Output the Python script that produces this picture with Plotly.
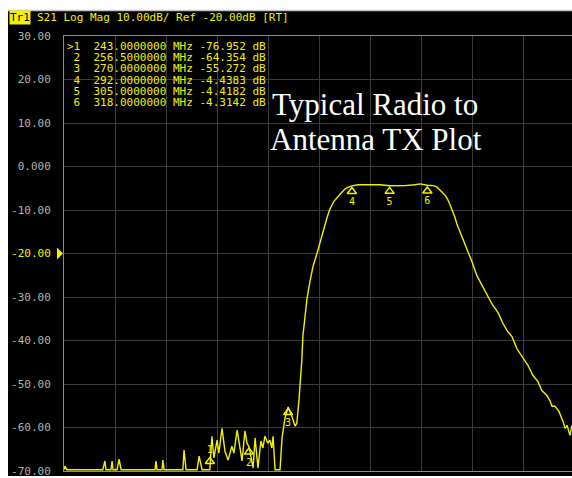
import plotly.graph_objects as go

# ---------------- data ----------------
freq_mhz = [192.7, 193.0, 193.7, 206.1, 206.8, 207.2, 208.9, 209.3, 209.6, 211.0,
            211.7, 212.4, 224.1, 224.4, 224.8, 226.5, 226.8, 227.2, 233.7, 234.1,
            234.8, 238.6, 239.3, 240.3, 241.7, 243.0, 243.7, 244.4, 245.5, 246.1,
            247.2, 248.2, 249.3, 250.6, 251.3, 252.4, 253.4, 254.1, 255.1, 255.8,
            256.5, 257.2, 257.9, 258.6, 259.6, 260.6, 261.3, 262.0, 263.0, 263.7,
            264.4, 264.8, 265.5, 267.2, 267.9, 268.9, 270.0, 270.6, 271.3, 272.4,
            273.0, 273.7, 274.4, 274.7, 275.1, 275.8, 276.5, 277.5, 278.6, 279.9,
            281.0, 282.0, 283.4, 284.4, 285.8, 287.9, 289.6, 290.6, 292.0, 294.1,
            301.7, 305.0, 310.3, 313.7, 315.5, 318.0, 320.0, 321.3, 323.0, 324.4,
            325.5, 326.5, 327.5, 328.2, 329.9, 331.7, 333.4, 335.1, 336.1, 336.8,
            338.6, 340.3, 342.4, 344.1, 345.8, 347.2, 348.9, 350.6, 352.7, 354.4,
            356.1, 357.5, 359.2, 360.3, 361.0, 362.0, 363.4, 364.8, 365.5, 366.2,
            366.5, 367.2, 367.9]
s21_db = [-69.7, -68.9, -69.7, -69.7, -67.7, -69.7, -69.7, -67.7, -69.7, -69.7,
          -67.3, -69.7, -69.7, -67.7, -69.7, -69.7, -67.5, -69.7, -69.7, -65.2,
          -69.7, -69.7, -66.6, -69.7, -69.7, -69.7, -62.0, -67.0, -62.9, -65.9,
          -60.2, -65.4, -67.5, -64.3, -65.9, -60.6, -64.7, -67.7, -60.8, -63.6,
          -64.4, -66.6, -69.3, -62.4, -69.3, -63.1, -64.7, -62.0, -63.6, -62.9,
          -64.7, -62.0, -69.7, -69.7, -62.4, -57.9, -55.3, -56.3, -57.4, -59.7,
          -59.0, -54.0, -48.0, -44.8, -38.9, -34.3, -30.4, -26.5, -22.9, -20.1,
          -17.4, -14.6, -11.8, -9.8, -8.0, -6.4, -5.2, -4.8, -4.44, -4.2,
          -4.2, -4.42, -4.4, -4.2, -4.0, -4.31, -4.4, -4.7, -5.9, -6.8,
          -8.2, -9.8, -11.6, -13.2, -16.0, -19.0, -21.9, -25.1, -26.3, -27.4,
          -29.5, -31.6, -33.6, -36.1, -38.0, -39.1, -41.9, -43.7, -45.7, -48.0,
          -49.4, -51.5, -52.6, -53.8, -55.1, -55.1, -56.3, -58.6, -60.2, -59.5,
          -60.2, -61.8, -59.5]

marker_ids = ["1", "2", "3", "4", "5", "6"]
marker_freq = [243.0, 256.5, 270.0, 292.0, 305.0, 318.0]
marker_db = [-76.952, -64.354, -55.272, -4.4383, -4.4182, -4.3142]

y_ticks = [30, 20, 10, 0, -10, -20, -30, -40, -50, -60, -70]
y_ticktext = ["30.00", "20.00", "10.00", "0.000", "-10.00", "-20.00",
              "-30.00", "-40.00", "-50.00", "-60.00", "-70.00"]
ref_level = -20

header_text = "S21 Log Mag 10.00dB/ Ref -20.00dB [RT]"
title_lines = ["Typical Radio to", "Antenna TX Plot"]

# ---------------- layout geometry ----------------
W, H = 572, 478
L, R, T, B = 64, 0, 36, 5
PW, PH = W - L - R, H - T - B
X_RANGE = [192.7, 367.9]
Y_RANGE = [-70, 30]

def pxx(px):
    return (px - L) / PW

def pxy(py):
    return (H - B - py) / PH

YEL = "#f2f200"
MONO = "DejaVu Sans Mono"

fig = go.Figure()

fig.add_trace(go.Scatter(x=freq_mhz, y=s21_db, mode="lines",
                         line=dict(color=YEL, width=1.4), hoverinfo="skip",
                         showlegend=False))

# marker symbols on the trace (off-screen markers are pinned near the bottom)
floor_pin = -66.5
disp_db = [max(v, floor_pin) for v in marker_db]
text_pos = ["top center" if v < floor_pin else "bottom center" for v in marker_db]
fig.add_trace(go.Scatter(
    x=marker_freq, y=[v - 1.3 for v in disp_db], mode="markers+text",
    marker=dict(symbol="triangle-up-open", size=8, color=YEL,
                line=dict(color=YEL, width=1.5)),
    text=marker_ids, textposition=text_pos,
    textfont=dict(family=MONO, size=10, color=YEL),
    showlegend=False, hoverinfo="skip", cliponaxis=False))

# marker position indicators along the bottom edge
fig.add_trace(go.Scatter(
    x=marker_freq, y=[Y_RANGE[0] - 0.9] * len(marker_freq), mode="markers",
    marker=dict(symbol="triangle-up-open", size=6, color=YEL,
                line=dict(color=YEL, width=1.2)),
    showlegend=False, hoverinfo="skip", cliponaxis=False))

ticktext = [f'<span style="color:{YEL}">{t}</span>' if v == ref_level else t
            for v, t in zip(y_ticks, y_ticktext)]

annotations = []
annotations.append(dict(xref="paper", yref="paper", x=pxx(9), y=pxy(17.5),
                        xanchor="left", yanchor="middle", text="Tr1",
                        showarrow=False, bgcolor=YEL, borderpad=0,
                        font=dict(family=MONO, size=11, color="black")))
annotations.append(dict(xref="paper", yref="paper", x=pxx(35), y=pxy(17.5),
                        xanchor="left", yanchor="middle", text=header_text,
                        showarrow=False,
                        font=dict(family=MONO, size=11, color=YEL)))

for i, (mid, f, v) in enumerate(zip(marker_ids, marker_freq, marker_db)):
    lead = ">" if i == 0 else " "
    row = f"{lead}{mid}  {f:.7f} MHz {v:.5g} dB".replace(" ", "\u00a0")
    annotations.append(dict(xref="paper", yref="paper", x=pxx(66),
                            y=pxy(46.5 + i * 11.3), xanchor="left",
                            yanchor="middle", text=row, showarrow=False,
                            height=11, borderpad=0,
                            font=dict(family=MONO, size=11, color=YEL)))

for j, line in enumerate(title_lines):
    annotations.append(dict(xref="paper", yref="paper", x=pxx(270 - j * 2),
                            y=pxy(105 + j * 35), xanchor="left",
                            yanchor="middle", text=line, showarrow=False,
                            font=dict(family="Liberation Serif", size=31,
                                      color="white")))

shapes = [
    dict(type="rect", xref="paper", yref="paper", x0=pxx(8), x1=pxx(W),
         y0=pxy(H), y1=pxy(11), fillcolor="black", line=dict(width=0),
         layer="below"),
    dict(type="line", xref="paper", yref="paper", x0=pxx(8), x1=pxx(W),
         y0=pxy(10.5), y1=pxy(10.5), line=dict(color="#c4c4c4", width=1.5)),
    dict(type="path", xref="paper", yref="y",
         path=f"M {pxx(57)},{ref_level + 1.4} L {pxx(63)},{ref_level} "
              f"L {pxx(57)},{ref_level - 1.4} Z",
         fillcolor=YEL, line=dict(width=0)),
]

fig.update_layout(
    width=W, height=H, margin=dict(l=L, r=R, t=T, b=B),
    paper_bgcolor="white", plot_bgcolor="black",
    annotations=annotations, shapes=shapes,
    xaxis=dict(range=X_RANGE, tick0=X_RANGE[0], dtick=17.6,
               showticklabels=False, ticks="", showgrid=True,
               gridcolor="#3c3c3c", gridwidth=1, zeroline=False,
               showline=True, linecolor="#8c8c8c", linewidth=1, mirror=True),
    yaxis=dict(range=Y_RANGE, tickvals=y_ticks, ticktext=ticktext,
               ticks="", ticklabelstandoff=10, ticklabeloverflow="allow",
               showgrid=True,
               gridcolor="#3c3c3c", gridwidth=1, zeroline=False,
               showline=True, linecolor="#8c8c8c", linewidth=1, mirror=False,
               tickfont=dict(family=MONO, size=11, color="#b4b4b4")),
)

fig.write_html(
    "out.html",
    config={"displayModeBar": False},
    post_script="document.body.style.margin='0';"
                "document.body.style.overflow='hidden';",
)
